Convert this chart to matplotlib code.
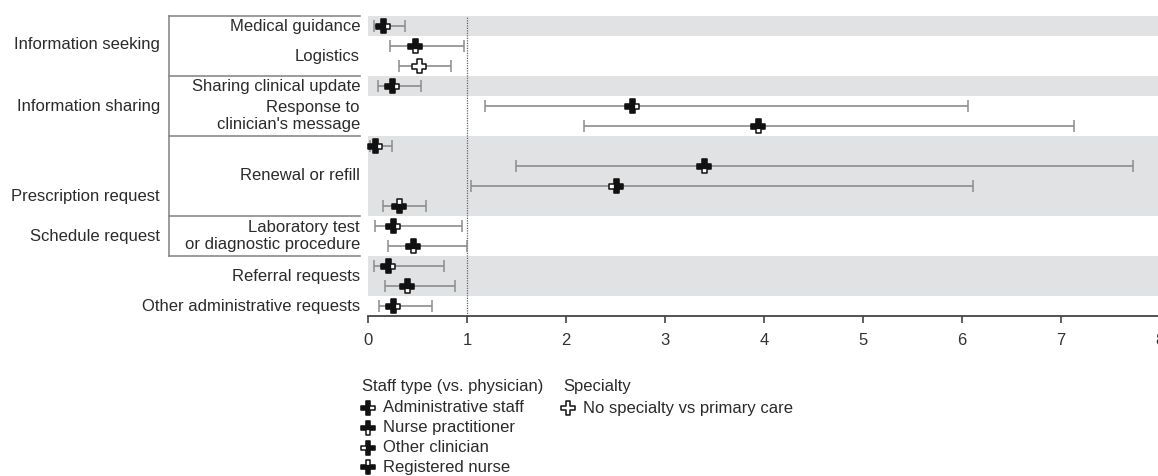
import numpy as np
import matplotlib
matplotlib.use("Agg")
import matplotlib.pyplot as plt
from matplotlib.path import Path

plt.rcParams['font.family'] = ['Liberation Sans', 'DejaVu Sans']

# one row per comparison, top to bottom
row_kind = ['admin', 'np', 'spec', 'admin', 'admin', 'np', 'admin', 'np',
            'other', 'rn', 'admin', 'np', 'admin', 'np', 'admin']
odds_ratio = [0.15, 0.47, 0.52, 0.24, 2.67, 3.94, 0.07, 3.39,
              2.51, 0.31, 0.25, 0.45, 0.20, 0.39, 0.25]
ci_low = [0.06, 0.22, 0.31, 0.10, 1.18, 2.18, 0.02, 1.49,
          1.04, 0.15, 0.07, 0.20, 0.06, 0.17, 0.11]
ci_high = [0.37, 0.97, 0.84, 0.54, 6.06, 7.13, 0.24, 7.73,
           6.11, 0.59, 0.95, 1.00, 0.77, 0.88, 0.65]

subcategories = ["Medical guidance", "Logistics", "Sharing clinical update",
                 "Response to\nclinician's message", "Renewal or refill",
                 "Laboratory test\nor diagnostic procedure", "Referral requests",
                 "Other administrative requests"]
subcategory_rows = [[0], [1, 2], [3], [4, 5], [6, 7, 8, 9], [10, 11], [12, 13], [14]]

groups = ["Information seeking", "Information sharing", "Prescription request", "Schedule request"]
group_rows = [(0, 2), (3, 5), (6, 9), (10, 11)]
group_label_row = [0.9, 4.05, 8.5, 10.5]

staff_kinds = ['admin', 'np', 'other', 'rn']
staff_labels = ["Administrative staff", "Nurse practitioner", "Other clinician", "Registered nurse"]
specialty_label = "No specialty vs primary care"

xticks = list(range(0, 9))

TEXT = '#2b2b2b'
W, H = 1158, 476

# plus-sign marker; each staff type leaves one arm open
w = 0.36
PLUS = [(-w, 1), (w, 1), (w, w), (1, w), (1, -w), (w, -w), (w, -1), (-w, -1),
        (-w, -w), (-1, -w), (-1, w), (-w, w), (-w, 1)]
OPEN_RIGHT = np.array([(-w, 1), (w, 1), (w, -1), (-w, -1), (-w, -w), (-1, -w),
                       (-1, w), (-w, w), (-w, 1)])
OPEN_ANGLE = {'admin': 0, 'rn': 90, 'other': 180, 'np': 270}


def fill_path(kind):
    a = np.deg2rad(OPEN_ANGLE[kind])
    rot = np.array([[np.cos(a), -np.sin(a)], [np.sin(a), np.cos(a)]])
    verts = np.round(OPEN_RIGHT @ rot.T, 6)
    return Path(verts, closed=True)


def draw_marker(ax, x, y, kind, size=10):
    ax.plot(x, y, linestyle='none', marker=Path(PLUS, closed=True), ms=size,
            mfc='white', mec='#111111', mew=1.1, zorder=4, clip_on=False)
    if kind != 'spec':
        ax.plot(x, y, linestyle='none', marker=fill_path(kind), ms=size,
                mfc='#111111', mec='#111111', mew=0.2, zorder=5, clip_on=False)


fig = plt.figure(figsize=(W / 100, H / 100), dpi=100)
ax = fig.add_axes([368 / W, (H - 316) / H, 792 / W, 300 / H])

rows = np.arange(len(odds_ratio))
ors = np.array(odds_ratio)

# shaded bands for every other subcategory
for i, r in enumerate(subcategory_rows):
    if i % 2 == 0:
        ax.axhspan(min(r) - 0.5, max(r) + 0.5, color='#e1e2e4', lw=0, zorder=0)

ax.axvline(1, color='#666666', ls=(0, (1, 1)), lw=0.9, zorder=1)

ax.errorbar(ors, rows, xerr=[ors - np.array(ci_low), np.array(ci_high) - ors],
            fmt='none', ecolor='#8c8c8c', elinewidth=1.2, capsize=4.5, capthick=1.1, zorder=2)

for kind in set(row_kind):
    idx = [i for i, k in enumerate(row_kind) if k == kind]
    draw_marker(ax, ors[idx], rows[idx], kind)

ax.set_xlim(0, 8)
ax.set_ylim(len(rows) - 0.5, -0.5)
ax.set_xticks(xticks)
ax.set_yticks([])
for s in ['top', 'right', 'left']:
    ax.spines[s].set_visible(False)
ax.spines['bottom'].set_color('#444444')
ax.spines['bottom'].set_linewidth(1.3)
ax.tick_params(axis='x', length=5, width=1.2, color='#444444', labelsize=12,
               labelcolor='#333333', pad=7)

# row labels and group brackets
yt = ax.get_yaxis_transform()
sub_x = -8 / 792
br_x = -199 / 792
grp_x = -208 / 792
for label, r in zip(subcategories, subcategory_rows):
    ax.text(sub_x, np.mean(r), label, transform=yt, ha='right', va='center',
            fontsize=12, color=TEXT, linespacing=1.2)

for label, yr in zip(groups, group_label_row):
    ax.text(grp_x, yr, label, transform=yt, ha='right', va='center', fontsize=12, color=TEXT)

bounds = sorted({g[0] - 0.5 for g in group_rows} | {g[1] + 0.5 for g in group_rows})
for b in bounds:
    ax.plot([br_x, sub_x], [b, b], transform=yt, color='#8a8a8a', lw=1.2, clip_on=False)
ax.plot([br_x, br_x], [bounds[0], bounds[-1]], transform=yt, color='#8a8a8a', lw=1.2, clip_on=False)

# legend block below the axis
lax = fig.add_axes([0, 0, 1, 1])
lax.set_xlim(0, W)
lax.set_ylim(H, 0)
lax.axis('off')

lax.text(362, 387, "Staff type (vs. physician)", ha='left', va='center', fontsize=12, color=TEXT)
for i, (kind, label) in enumerate(zip(staff_kinds, staff_labels)):
    y = 408 + 19.8 * i
    draw_marker(lax, [368], [y], kind, size=9.5)
    lax.text(383, y, label, ha='left', va='center', fontsize=12, color=TEXT)

lax.text(563, 387, "Specialty", ha='left', va='center', fontsize=12, color=TEXT)
draw_marker(lax, [568], [408], 'spec', size=9.5)
lax.text(583, 408, specialty_label, ha='left', va='center', fontsize=12, color=TEXT)

fig.savefig("out.png", dpi=100)
